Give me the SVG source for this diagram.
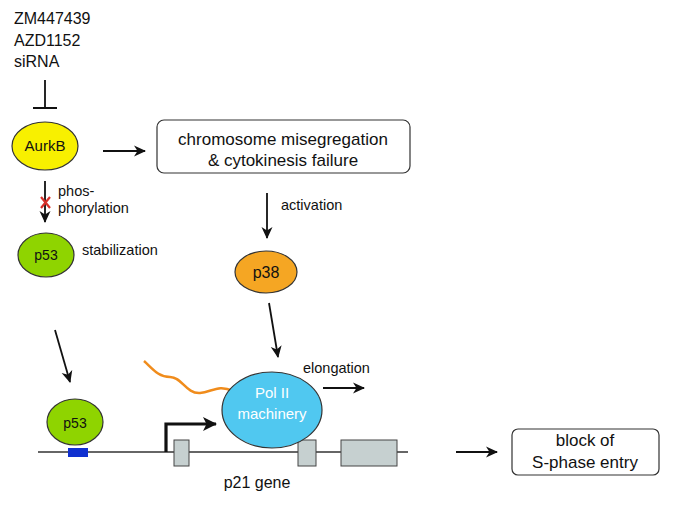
<svg xmlns="http://www.w3.org/2000/svg" width="675" height="507" viewBox="0 0 675 507">
<defs>
<marker id="ah" markerWidth="12" markerHeight="12" refX="11" refY="6" orient="auto" markerUnits="userSpaceOnUse">
<path d="M0,0.5 L12,6 L0,11.5 L3.5,6 Z" fill="#111"/>
</marker>
<marker id="ahb" markerWidth="14" markerHeight="14" refX="13" refY="7" orient="auto" markerUnits="userSpaceOnUse">
<path d="M0,0 L14,7 L0,14 L3.5,7 Z" fill="#111"/>
</marker>
</defs>
<style>
text{font-family:"Liberation Sans",Arial,sans-serif;fill:#111}
.lbl{font-size:14.5px}
.box{font-size:17px}
.node{stroke:#333;stroke-width:1.2}
.conn{stroke:#111;stroke-width:1.8;fill:none}
.exon{fill:#c6d0d0;stroke:#444;stroke-width:1}
</style>
<rect width="675" height="507" fill="#fff"/>

<g id="inhibitors">
<text x="14" y="24" style="font-size:16px">ZM447439</text>
<text x="14" y="46" style="font-size:16px">AZD1152</text>
<text x="14" y="67" style="font-size:16px">siRNA</text>
</g>

<g id="connectors">
<path class="conn" d="M45,80 V108 M33,108 H57"/>
<path class="conn" d="M103,151 H145" marker-end="url(#ah)"/>
<path class="conn" d="M45,181 V222" marker-end="url(#ah)"/>
<path class="conn" d="M267,193 V238" marker-end="url(#ah)"/>
<path class="conn" d="M55,330 L70,382" marker-end="url(#ah)"/>
<path class="conn" d="M269,303 L278,357" marker-end="url(#ah)"/>
<path class="conn" d="M323,388 H364" marker-end="url(#ah)"/>
<path class="conn" d="M456,452 H497" marker-end="url(#ah)"/>
</g>

<g id="redX">
<path d="M41,197 L50,208 M50,197 L41,208" stroke="#d8302a" stroke-width="2.2" fill="none"/>
</g>
<g id="phos-label">
<text class="lbl" x="58" y="196">phos-</text>
<text class="lbl" x="58" y="213">phorylation</text>
</g>

<g id="AurkB">
<ellipse class="node" cx="45" cy="146" rx="33" ry="24" fill="#f8f000"/>
<text x="45" y="151" text-anchor="middle" style="font-size:15px">AurkB</text>
</g>

<g id="chromosome-box">
<rect class="node" x="157" y="120" width="253" height="53" rx="7" fill="#fff"/>
<text class="box" x="283" y="145" text-anchor="middle">chromosome misegregation</text>
<text class="box" x="283" y="166" text-anchor="middle">&amp; cytokinesis failure</text>
</g>
<text class="lbl" x="281" y="210">activation</text>

<g id="p53-top">
<ellipse class="node" cx="46" cy="255" rx="28" ry="22" fill="#8fd400"/>
<text x="46" y="260" text-anchor="middle" style="font-size:14px">p53</text>
</g>
<text class="lbl" x="82" y="255">stabilization</text>

<g id="p38">
<ellipse class="node" cx="266" cy="272" rx="31" ry="21" fill="#f5a623"/>
<text x="266" y="278" text-anchor="middle" style="font-size:16px">p38</text>
</g>

<g id="gene">
<line x1="38" y1="452" x2="408" y2="452" stroke="#333" stroke-width="1.5"/>
<rect x="68" y="448" width="20" height="9" fill="#1030d0"/>
<rect class="exon" x="174" y="440" width="15" height="26"/>
<rect class="exon" x="298" y="440" width="18" height="26"/>
<rect class="exon" x="341" y="440" width="56" height="26"/>
<path d="M166,452 V424 H216" stroke="#111" stroke-width="3.2" fill="none" marker-end="url(#ahb)"/>
<text x="257" y="488" text-anchor="middle" style="font-size:16px">p21 gene</text>
</g>

<g id="p53-bottom">
<ellipse class="node" cx="75" cy="422" rx="28" ry="23" fill="#8fd400"/>
<text x="75" y="428" text-anchor="middle" style="font-size:14px">p53</text>
</g>

<g id="mRNA">
<path d="M144,361 C152,368 158,377 170,377 C182,377 186,394 200,393 C212,392 218,384 233,391" stroke="#f08c1c" stroke-width="2.5" fill="none"/>
</g>

<g id="PolII">
<ellipse class="node" cx="272" cy="410" rx="50" ry="38" fill="#50c8f0"/>
<text x="272" y="398" text-anchor="middle" style="font-size:15px;fill:#fff">Pol II</text>
<text x="272" y="419" text-anchor="middle" style="font-size:15px;fill:#fff">machinery</text>
</g>
<text class="lbl" x="303" y="373">elongation</text>

<g id="block-box">
<rect class="node" x="512" y="429" width="147" height="46" rx="6" fill="#fff"/>
<text class="box" x="585" y="446" text-anchor="middle">block of</text>
<text class="box" x="585" y="468" text-anchor="middle">S-phase entry</text>
</g>
</svg>
